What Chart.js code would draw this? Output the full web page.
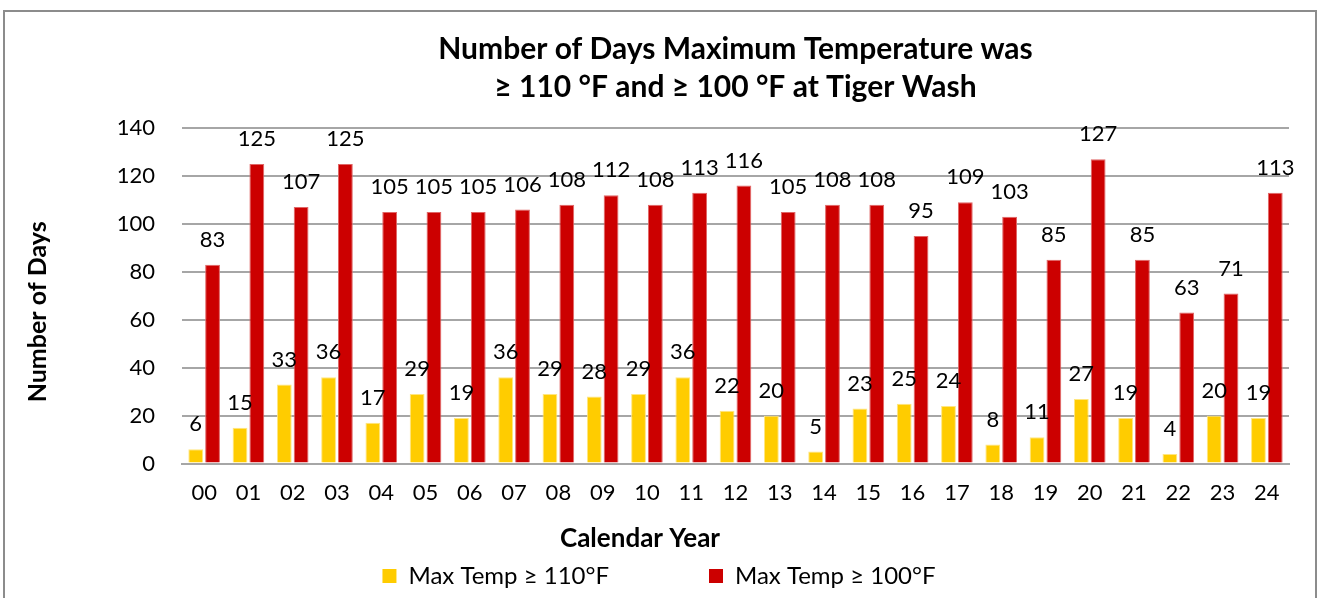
<!DOCTYPE html>
<html>
<head>
<meta charset="utf-8">
<script src="https://cdn.jsdelivr.net/npm/chart.js@4"></script>
<style>
  body { margin: 0; background: #fff; }
  #frame { position: absolute; left: 3px; top: 10px; width: 1310px; height: 600px;
           border: 2px solid #8c8c8c; border-bottom: none; }
  #wrap { position: relative; width: 1310px; height: 586px; }
</style>
</head>
<body>
<div id="frame"><div id="wrap"><canvas id="daysChart"></canvas></div></div>
<script>
// data
const years = ['00','01','02','03','04','05','06','07','08','09','10','11','12',
               '13','14','15','16','17','18','19','20','21','22','23','24'];
const days110 = [6,15,33,36,17,29,19,36,29,28,29,36,22,20,5,23,25,24,8,11,27,19,4,20,19];
const days100 = [83,125,107,125,105,105,105,106,108,112,108,113,116,105,108,108,95,109,103,85,127,85,63,71,113];
const yTicks = [0, 20, 40, 60, 80, 100, 120, 140];

const xTitle = 'Calendar Year';
const yTitle = 'Number of Days';

const fontName = 'Lato, "Open Sans", sans-serif';

// value labels above each bar
const barLabels = {
    id: 'barLabels',
    afterDatasetsDraw(chart) {
        let ctx = chart.ctx;
        ctx.save();
        ctx.font = '22px ' + fontName;
        ctx.fillStyle = '#000';
        ctx.textAlign = 'center';
        ctx.textBaseline = 'middle';
        chart.data.datasets.forEach(function(ds, i) {
            chart.getDatasetMeta(i).data.forEach(function(bar, j) {
                ctx.fillText(ds.data[j], bar.x, bar.y - 25);
            });
        });
        ctx.restore();
    }
};

// axis titles sit off-centre in the original, so draw them by hand
const axisTitles = {
    id: 'axisTitles',
    afterLayout(chart) {
        // nudge legend a bit right, like the original
        chart.legend.left += 12;
        chart.legend.right += 12;
    },
    afterDraw(chart) {
        let ctx = chart.ctx;
        let area = chart.chartArea;
        ctx.save();
        ctx.font = 'bold 26px ' + fontName;
        ctx.fillStyle = '#000';
        ctx.textAlign = 'center';
        ctx.textBaseline = 'middle';
        ctx.fillText(xTitle, chart.width / 2 - 20, chart.scales.x.bottom - 15);
        ctx.font = 'bold 25px ' + fontName;
        ctx.translate(33, (area.top + area.bottom) / 2 + 16);
        ctx.rotate(-Math.PI / 2);
        ctx.fillText(yTitle, 0, 0);
        ctx.restore();
    }
};

let ctx = document.getElementById('daysChart').getContext('2d');
let daysChart = new Chart(ctx, {
    type: 'bar',
    data: {
        labels: years,
        datasets: [{
            label: 'Max Temp ≥ 110°F',
            data: days110,
            backgroundColor: '#ffcc00',
            borderColor: '#ffe680',
            borderWidth: 1
        }, {
            label: 'Max Temp ≥ 100°F',
            data: days100,
            backgroundColor: '#cc0000',
            borderColor: '#e06666',
            borderWidth: 1
        }]
    },
    options: {
        responsive: true,
        maintainAspectRatio: false,
        animation: false,
        layout: { padding: { left: 0, right: 26, top: 18, bottom: 0 } },
        datasets: { bar: { categoryPercentage: 0.76, barPercentage: 0.88 } },
        plugins: {
            title: {
                display: true,
                fullSize: false,
                text: ['Number of Days Maximum Temperature was', '≥ 110 °F and ≥ 100 °F at Tiger Wash'],
                color: '#000',
                font: { family: fontName, size: 30, weight: 'bold', lineHeight: 1.267 },
                padding: { top: 0, bottom: 22 }
            },
            legend: {
                position: 'bottom',
                labels: {
                    color: '#000',
                    font: { family: fontName, size: 24 },
                    boxWidth: 14,
                    boxHeight: 14,
                    padding: 10,
                    generateLabels(chart) {
                        let items = Chart.defaults.plugins.legend.labels.generateLabels(chart);
                        items.forEach(function(it) { it.lineWidth = 0; });
                        items[0].text = items[0].text + '\u2003\u2003\u2003\u2003\u2003';
                        return items;
                    }
                }
            },
            tooltip: { enabled: false }
        },
        scales: {
            x: {
                afterFit(scale) { scale.height += 32; },
                grid: { display: false, drawTicks: false },
                border: { color: '#a6a6a6', width: 2 },
                ticks: { color: '#000', font: { family: fontName, size: 22 }, padding: 16 }
            },
            y: {
                min: 0,
                max: 140,
                afterBuildTicks(scale) { scale.ticks = yTicks.map(v => ({ value: v })); },
                afterFit(scale) { scale.width = 177; },
                grid: { color: '#a6a6a6', lineWidth: 2, drawTicks: false },
                border: { display: false },
                ticks: { color: '#000', font: { family: fontName, size: 22 }, padding: 27 }
            }
        }
    },
    plugins: [barLabels, axisTitles]
});
</script>
</body>
</html>
